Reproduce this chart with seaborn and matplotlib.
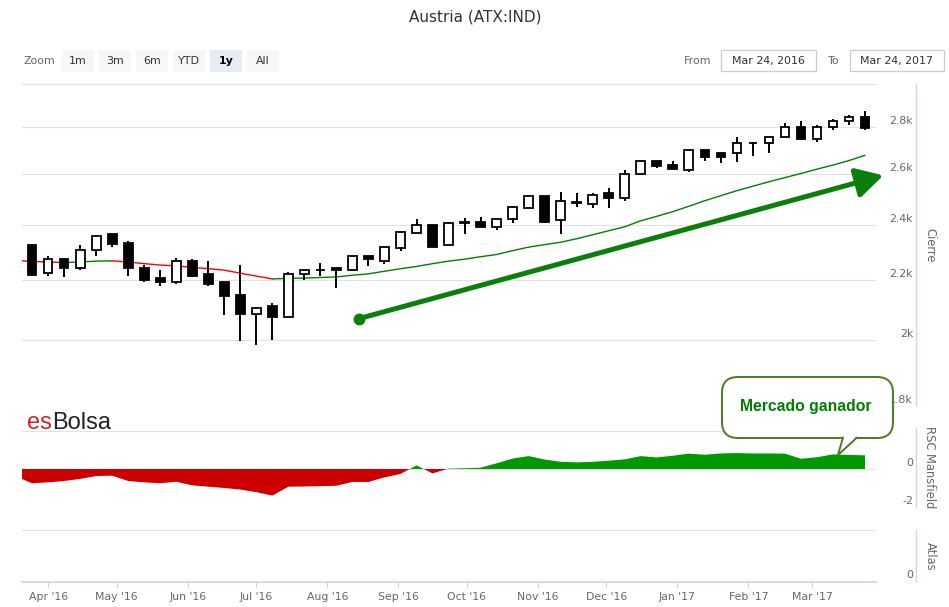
import numpy as np
import pandas as pd
import matplotlib
matplotlib.use("Agg")
import matplotlib.pyplot as plt
import matplotlib.dates as mdates
from matplotlib import transforms
from matplotlib.patches import FancyBboxPatch, Polygon, Rectangle
from matplotlib.ticker import NullLocator
import seaborn as sns

# %% DATA (weekly candles, Fridays)
weeks = pd.date_range("2016-03-25", periods=53, freq="7D")
opens = [2322, 2224, 2271, 2239, 2304, 2363, 2333, 2242, 2207, 2193, 2267, 2221, 2193, 2145,
         2084, 2108, 2074, 2221, 2232, 2239, 2232, 2285, 2267, 2311, 2370, 2397, 2322, 2408,
         2412, 2393, 2420, 2466, 2510, 2416, 2482, 2478, 2522, 2502, 2599, 2653, 2640, 2616,
         2700, 2691, 2687, 2730, 2734, 2760, 2804, 2751, 2800, 2831, 2849]
highs = [2329, 2282, 2274, 2322, 2359, 2363, 2337, 2253, 2232, 2278, 2274, 2267, 2193, 2253,
         2104, 2118, 2228, 2235, 2260, 2239, 2285, 2285, 2318, 2374, 2420, 2397, 2412, 2427,
         2431, 2420, 2474, 2510, 2510, 2526, 2522, 2522, 2542, 2616, 2661, 2653, 2653, 2700,
         2700, 2691, 2756, 2738, 2760, 2822, 2827, 2813, 2836, 2858, 2872]
lows = [2217, 2214, 2210, 2235, 2282, 2315, 2214, 2193, 2179, 2183, 2210, 2179, 2081, 1997,
        1984, 2000, 2074, 2197, 2214, 2172, 2232, 2249, 2256, 2300, 2370, 2315, 2322, 2363,
        2393, 2378, 2408, 2466, 2408, 2363, 2470, 2466, 2466, 2490, 2599, 2624, 2620, 2611,
        2657, 2645, 2649, 2678, 2691, 2760, 2743, 2738, 2787, 2813, 2787]
closes = [2217, 2271, 2242, 2307, 2359, 2329, 2239, 2200, 2190, 2264, 2214, 2186, 2142, 2084,
          2104, 2074, 2221, 2235, 2235, 2232, 2285, 2271, 2315, 2374, 2397, 2318, 2408, 2412,
          2393, 2420, 2470, 2510, 2412, 2490, 2486, 2514, 2502, 2599, 2653, 2636, 2620, 2700,
          2674, 2674, 2734, 2734, 2760, 2804, 2751, 2804, 2831, 2849, 2796]

# moving average and RSC Mansfield (one extra week before the first candle)
ind_dates = pd.date_range("2016-03-18", periods=54, freq="7D")
media = [2267, 2264, 2262, 2260, 2262, 2265, 2266, 2262, 2256, 2251, 2248, 2243, 2238, 2233,
         2222, 2212, 2202, 2204, 2205, 2207, 2209, 2215, 2220, 2229, 2238, 2246, 2256, 2265,
         2272, 2281, 2289, 2303, 2316, 2325, 2334, 2347, 2362, 2377, 2392, 2415, 2432, 2450,
         2471, 2493, 2513, 2533, 2551, 2569, 2586, 2603, 2621, 2638, 2657, 2679]
rsc = [-0.40, -0.75, -0.70, -0.63, -0.52, -0.37, -0.35, -0.63, -0.70, -0.75, -0.67, -0.86,
       -0.93, -1.00, -1.08, -1.22, -1.40, -0.93, -0.92, -0.90, -0.88, -0.68, -0.68, -0.44,
       -0.26, 0.19, -0.23, 0.02, 0.04, 0.07, 0.30, 0.55, 0.68, 0.50, 0.38, 0.35, 0.38, 0.44,
       0.51, 0.68, 0.61, 0.70, 0.81, 0.75, 0.82, 0.84, 0.82, 0.82, 0.81, 0.54, 0.62, 0.77,
       0.74, 0.72]

price_ticks = [1800, 2000, 2200, 2400, 2600, 2800, 3000]
price_labels = ["1.8k", "2k", "2.2k", "2.4k", "2.6k", "2.8k"]

# arrow annotation (date, price)
arrow_start = ("2016-08-15", 2068)
arrow_end = ("2017-04-01", 2595)

# %% STYLE
sns.set_theme(style="white")
plt.rcParams["font.family"] = ["DejaVu Sans"]
GRID = "#e2e2e2"
AXLINE = "#ccd6eb"
LBL = "#666666"

W, H = 949, 607
fig = plt.figure(figsize=(W / 100, H / 100), dpi=100)


def box(l, t, r, b):
    return [l / W, 1 - b / H, (r - l) / W, (b - t) / H]


ax = fig.add_axes(box(22, 84, 876, 406))
ax_rsc = fig.add_axes(box(22, 428, 876, 507), sharex=ax)
ax_atl = fig.add_axes(box(22, 530, 876, 582), sharex=ax)

xw = mdates.date2num(weeks)
xi = mdates.date2num(ind_dates)
xlim = mdates.date2num([pd.Timestamp("2016-03-20 14:00"), pd.Timestamp("2017-03-28 19:00")])

# %% MAIN PANEL
ax.set_yscale("log")
ax.set_ylim(1800, 3000)
ax.set_yticks(price_ticks)
ax.yaxis.set_minor_locator(NullLocator())

# moving average, green when rising, red when falling
media_arr = np.array(media, dtype=float)
up = np.diff(media_arr) >= 0
start = 0
for k in range(1, len(up) + 1):
    if k == len(up) or up[k] != up[start]:
        sns.lineplot(x=xi[start:k + 1], y=media_arr[start:k + 1], ax=ax,
                     color="#008000" if up[start] else "#ff0000", lw=1.0, zorder=2)
        start = k

o, h, l, c = map(np.array, (opens, highs, lows, closes))
ax.vlines(xw, l, h, color="black", lw=1.4, zorder=3)
rising = c >= o
ax.bar(xw, np.maximum(np.abs(c - o), 1.5), bottom=np.minimum(o, c), width=3.8,
       color=np.where(rising, "white", "black"), edgecolor="black", lw=1.3, zorder=4)

xa = mdates.date2num(pd.Timestamp(arrow_start[0]))
xb = mdates.date2num(pd.Timestamp(arrow_end[0]))
ax.annotate("", xy=(xb, arrow_end[1]), xytext=(xa, arrow_start[1]), annotation_clip=False,
            arrowprops=dict(arrowstyle="-|>,head_length=0.9,head_width=0.5", mutation_scale=18,
                            color="#0a800a", lw=3.6, shrinkA=0, shrinkB=0), zorder=6)
ax.plot([xa], [arrow_start[1]], "o", ms=7.5, color="#0a800a", zorder=6, clip_on=False)

# %% RSC PANEL
r = np.array(rsc)
ax_rsc.fill_between(xi, r, 0, where=r >= 0, interpolate=True, color="#009900", lw=0)
ax_rsc.fill_between(xi, r, 0, where=r <= 0, interpolate=True, color="#cc0000", lw=0)
ax_rsc.set_ylim(-2.0, 2.16)
ax_rsc.set_yticks([-2, 0, 2])

# %% ATLAS PANEL
ax_atl.set_ylim(0, 1)
ax_atl.set_yticks([0, 1])

# %% AXES COMMON
for a in (ax, ax_rsc, ax_atl):
    a.set_xlim(*xlim)
    a.grid(axis="y", color=GRID, lw=0.8)
    a.grid(axis="x", visible=False)
    for s in a.spines.values():
        s.set_visible(False)
    a.tick_params(left=False, labelleft=False, right=False, labelright=False)
    a.plot([1.0468, 1.0468], [0, 1], transform=a.transAxes, color=AXLINE, lw=1.0, clip_on=False)
    a.set_facecolor("none")

for a in (ax, ax_rsc):
    a.tick_params(bottom=False, labelbottom=False)

ax_atl.spines["bottom"].set_visible(True)
ax_atl.spines["bottom"].set_color(AXLINE)
ax_atl.xaxis.set_major_locator(mdates.MonthLocator())
ax_atl.xaxis.set_major_formatter(mdates.DateFormatter("%b '%y"))
ax_atl.tick_params(axis="x", bottom=True, length=4.5, width=0.8, color=AXLINE,
                   labelcolor=LBL, labelsize=7.8, pad=2.5)


def ylabels(a, vals, texts, off):
    tr = transforms.offset_copy(a.get_yaxis_transform(), fig=fig, y=off, units="dots")
    for v, t in zip(vals, texts):
        a.text(1.0433, v, t, transform=tr, ha="right", va="center", color=LBL, fontsize=7.9)


ylabels(ax, price_ticks[:-1], price_labels, 6)
ylabels(ax_rsc, [0, -2], ["0", "-2"], 6)
ylabels(ax_atl, [0], ["0"], 7)

for a, t in ((ax, "Cierre"), (ax_rsc, "RSC Mansfield"), (ax_atl, "Atlas")):
    a.text(1.0632, 0.5, t, transform=a.transAxes, rotation=270, ha="center", va="center",
           color=LBL, fontsize=8.3)

# %% OVERLAY (title, toolbar, logo, callout)
ov = fig.add_axes([0, 0, 1, 1], zorder=10)
ov.set_xlim(0, W)
ov.set_ylim(H, 0)
ov.axis("off")
ov.patch.set_alpha(0)

ov.text(475, 17, "Austria (ATX:IND)", ha="center", va="center", color="#333333", fontsize=11)

ov.text(24, 61, "Zoom", ha="left", va="center", color=LBL, fontsize=7.9)
buttons = ["1m", "3m", "6m", "YTD", "1y", "All"]
for k, b in enumerate(buttons):
    x0 = 62 + k * 37
    sel = b == "1y"
    ov.add_patch(Rectangle((x0, 50), 32, 22, facecolor="#e6ebf5" if sel else "#f7f7f7",
                           edgecolor="none"))
    ov.text(x0 + 16, 61, b, ha="center", va="center", fontsize=7.9,
            color="black" if sel else "#333333", fontweight="bold" if sel else "normal")

ov.text(684, 61, "From", ha="left", va="center", color=LBL, fontsize=7.9)
ov.text(828, 61, "To", ha="left", va="center", color=LBL, fontsize=7.9)
for x0, x1, t in ((721, 816, "Mar 24, 2016"), (850, 944, "Mar 24, 2017")):
    ov.add_patch(Rectangle((x0, 50), x1 - x0, 21, facecolor="white", edgecolor="#cccccc", lw=0.9))
    ov.text((x0 + x1) / 2, 61, t, ha="center", va="center", color="#333333", fontsize=7.9)

ov.text(27, 429, "es", color="#d42127", fontsize=17, family=["Liberation Sans", "DejaVu Sans"],
        va="baseline")
ov.text(52, 429, "Bolsa", color="#222222", fontsize=17, family=["Liberation Sans", "DejaVu Sans"],
        va="baseline")

edge = "#4d7a25"
ov.add_patch(FancyBboxPatch((722, 377), 171, 61, boxstyle="round,pad=0,rounding_size=16",
                            facecolor="white", edgecolor=edge, lw=1.4))
ov.add_patch(Polygon([(843, 436), (838, 455), (857, 436)], closed=True, facecolor="white",
                     edgecolor="none"))
ov.plot([843, 838, 857], [437.5, 455, 437.5], color=edge, lw=1.4, solid_joinstyle="miter")
ov.text(806, 407, "Mercado ganador", ha="center", va="center", color="#008000", fontsize=11.3,
        fontweight="bold", family=["Liberation Sans", "DejaVu Sans"])

fig.savefig("out.png", dpi=100)
